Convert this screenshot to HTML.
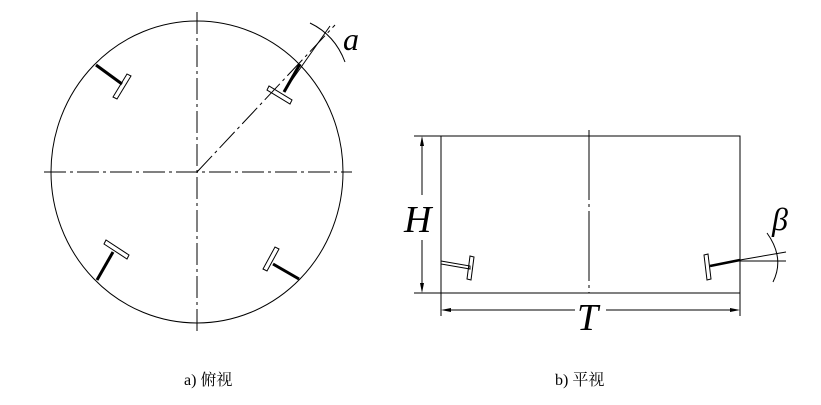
<!DOCTYPE html>
<html><head><meta charset="utf-8"><style>
html,body{margin:0;padding:0;background:#fff;width:821px;height:405px;overflow:hidden}
</style></head><body>
<svg width="821" height="405" viewBox="0 0 821 405" xmlns="http://www.w3.org/2000/svg">
<g fill="none" stroke="#000" stroke-width="1">
<ellipse cx="197" cy="172" rx="146" ry="151"/>
<line x1="44" y1="172" x2="352" y2="172" stroke-dasharray="22,4,3,4"/>
<line x1="197" y1="12" x2="197" y2="332" stroke-dasharray="22,4,3,4"/>
<line x1="197" y1="172" x2="335" y2="25" stroke-dasharray="22,4,3,4"/>
<line x1="285" y1="90" x2="330" y2="26"/>
<path d="M310 23 Q335 35 345 62"/>
<line x1="96" y1="65" x2="122" y2="84" stroke-width="3"/>
<polygon points="113,97 117,99 131,76 127,74"/>
<line x1="300" y1="64" x2="284" y2="92" stroke-width="3"/>
<polygon points="269,86 267,90 290,104 292,100"/>
<line x1="97" y1="280" x2="113" y2="252" stroke-width="3"/>
<polygon points="106,240 104,244 127,259 129,255"/>
<line x1="299" y1="279" x2="273" y2="264" stroke-width="3"/>
<polygon points="263,269 267,271 279,249 275,247"/>
<rect x="441" y="136" width="299" height="157"/>
<line x1="414" y1="136" x2="441" y2="136"/>
<line x1="414" y1="293" x2="441" y2="293"/>
<line x1="589" y1="130" x2="589" y2="293" stroke-dasharray="70,4,3,4"/>
<line x1="422" y1="138" x2="422" y2="195"/>
<line x1="422" y1="240" x2="422" y2="291"/>
<line x1="441" y1="293" x2="441" y2="316"/>
<line x1="740" y1="293" x2="740" y2="316"/>
<line x1="443" y1="310" x2="575" y2="310"/>
<line x1="606" y1="310" x2="738" y2="310"/>
<polygon points="441,261 470,266 470,269 441,264"/>
<polygon points="470,256 474,257 471,280 467,279"/>
<polygon points="704,255 708,254 711,279 707,280"/>
<line x1="710" y1="266" x2="740" y2="260" stroke-width="2.5"/>
<line x1="740" y1="260" x2="786" y2="252"/>
<line x1="740" y1="261" x2="786" y2="261"/>
<path d="M767 233 Q785 258 773 282"/>
</g>
<g fill="#000" stroke="none">
<polygon points="422,136 420,146 424,146"/>
<polygon points="422,293 420,283 424,283"/>
<polygon points="441,310 451,308 451,312"/>
<polygon points="740,310 730,308 730,312"/>
</g>
<g font-family="Liberation Serif, serif" font-style="italic" fill="#000">
<text x="343" y="50" font-size="32">a</text>
<text x="404" y="232" font-size="38">H</text>
<text x="577" y="330" font-size="38">T</text>
<text x="772" y="230" font-size="32">β</text>
</g>
<g font-family="Liberation Serif, Noto Serif CJK SC, serif" font-size="16" fill="#000">
<text x="184" y="385">a)  俯视</text>
<text x="555" y="385">b)  平视</text>
</g>
</svg>
</body></html>
